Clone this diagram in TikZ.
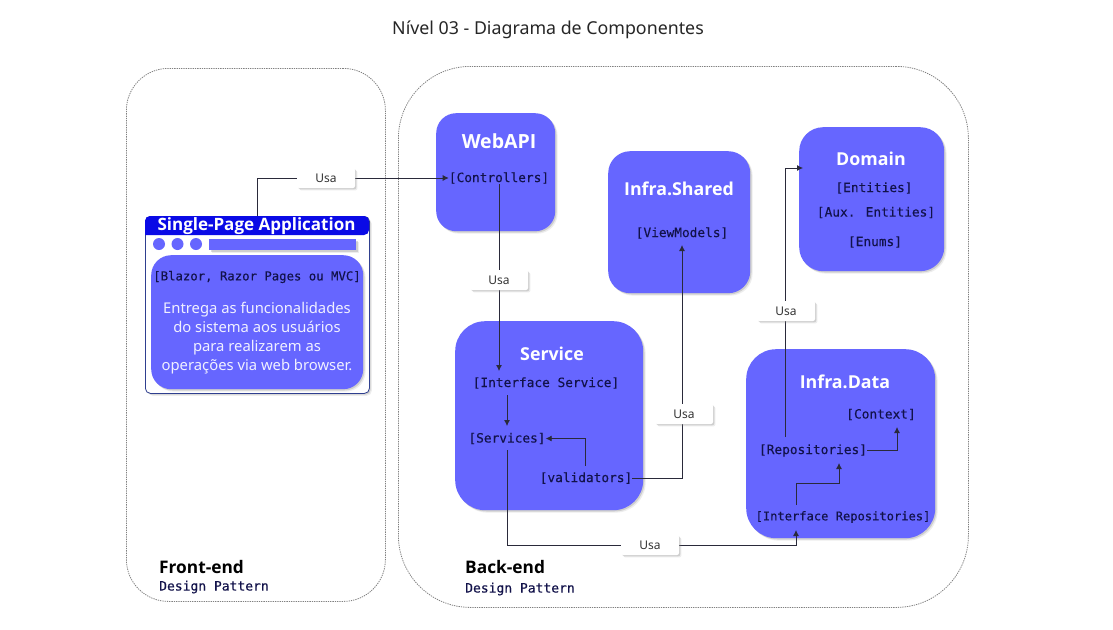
\documentclass[tikz,border=0pt]{standalone}
\usepackage{fontspec}
\setmainfont{Noto Sans}
\newfontfamily\monof{DejaVu Sans Mono}[FakeBold=0.25]
\newfontfamily\headf{Open Sans Bold}
\usetikzlibrary{shadows,arrows.meta,calc}
\definecolor{comp}{HTML}{6666FF}
\definecolor{hdr}{HTML}{0A0AE6}
\definecolor{navy}{HTML}{12124A}
\definecolor{edge}{HTML}{2F3F8F}
\definecolor{wire}{HTML}{2A2A3A}
\tikzset{
  softshadow/.style={
    drop shadow={shadow xshift=2.4pt,shadow yshift=-2.4pt,fill=black!50,opacity=.14},
    drop shadow={shadow xshift=1.3pt,shadow yshift=-1.3pt,fill=black!50,opacity=.28}},
  zone/.style={draw=black!50,dash pattern=on 1.3pt off 1pt,line width=.8pt,fill=white,anchor=north west,inner sep=0},
  comp box/.style={fill=comp,softshadow,anchor=north west,inner sep=0},
  comp title/.style={text=white,font=\headf\fontsize{17.8}{20}\selectfont,inner sep=0},
  mono/.style={text=navy,font=\monof\fontsize{12.8}{14}\selectfont,inner sep=0},
  zone title/.style={text=black,font=\headf\fontsize{17.3}{19}\selectfont,anchor=west,inner sep=0},
  zone sub/.style={text=navy,font=\monof\fontsize{13}{14}\selectfont,anchor=west,inner sep=0},
  usa/.style={fill=white,softshadow,rounded corners=2pt,minimum width=58pt,minimum height=20pt,inner sep=0,text=black!80,font=\fontsize{12}{14}\selectfont},
  wire line/.style={draw=wire,line width=.8pt},
  wire arrow/.style={wire line,-{Latex[length=6pt,width=6pt]}},
}
\begin{document}
\begin{tikzpicture}[x=1pt,y=-1pt]
\useasboundingbox (0,0) rectangle (1113,629);
\fill[white] (0,0) rectangle (1113,629);
\node (title) at (548,30) [inner sep=0,text=black!85,font=\fontsize{17.8}{20}\selectfont] {Nível 03 - Diagrama de Componentes};
% zones
\node (front) at (126,68) [zone,rounded corners=42pt,minimum width=259pt,minimum height=533pt] {};
\node (back) at (398,66) [zone,rounded corners=72pt,minimum width=570pt,minimum height=541pt] {};
\node (fronttitle) at (159,567) [zone title] {Front-end};
\node (frontsub) at (159,587) [zone sub] {Design Pattern};
\node (backtitle) at (465,567) [zone title] {Back-end};
\node (backsub) at (465,589) [zone sub] {Design Pattern};
% components
\node (webapi) at (436,113) [comp box,rounded corners=20pt,minimum width=119pt,minimum height=118pt] {};
\node (shared) at (608,151) [comp box,rounded corners=22pt,minimum width=142pt,minimum height=142pt] {};
\node (domain) at (799,127) [comp box,rounded corners=24pt,minimum width=145pt,minimum height=144pt] {};
\node (service) at (455,321) [comp box,rounded corners=30pt,minimum width=188pt,minimum height=189pt] {};
\node (data) at (746,349) [comp box,rounded corners=30pt,minimum width=189pt,minimum height=189pt] {};
% SPA window
\node (spa) at (145,216) [draw=edge,line width=.8pt,fill=white,softshadow,rounded corners=5pt,anchor=north west,inner sep=0,minimum width=224pt,minimum height=177pt] {};
\fill[hdr,rounded corners=5pt] (145,235) -- (145,216) -- (369,216) -- (369,235) [sharp corners] -- cycle;
\node (spatitle) at (256.5,226) [inner sep=0,text=white,font=\headf\fontsize{17}{19}\selectfont] {Single-Page Application};
\node (dot1) at (159,244) [circle,fill=comp,minimum size=12pt,inner sep=0] {};
\node (dot2) at (177.5,244) [circle,fill=comp,minimum size=12pt,inner sep=0] {};
\node (dot3) at (196,244) [circle,fill=comp,minimum size=12pt,inner sep=0] {};
\node (bar) at (209,239) [fill=comp,softshadow,anchor=north west,inner sep=0,minimum width=147pt,minimum height=11pt] {};
\node (spainner) at (151,255) [comp box,rounded corners=20pt,minimum width=212pt,minimum height=134pt] {};
\node (spatech) at (257,277) [mono,font=\monof\fontsize{12.3}{14}\selectfont] {[Blazor, Razor Pages ou MVC]};
\node (spadesc) at (257,338.5) [inner sep=0,align=center,text=white!90!comp,font=\fontsize{14.8}{19}\selectfont] {Entrega as funcionalidades\\do sistema aos usuários\\para realizarem as\\operações via web browser.};
% titles
\node (webapit) at (499,141) [comp title,font=\headf\fontsize{19.5}{20}\selectfont] {WebAPI};
\node (sharedt) at (679,189) [comp title] {Infra.Shared};
\node (domaint) at (871,159) [comp title] {Domain};
\node (servicet) at (552,354) [comp title] {Service};
\node (datat) at (845,382) [comp title] {Infra.Data};
% inner labels
\node (controllers) at (499,178) [mono] {[Controllers]};
\node (viewmodels) at (682,233) [mono] {[ViewModels]};
\node (entities) at (874,188) [mono] {[Entities]};
\node (aux) at (876,212.5) [mono] {[Aux. Entities]};
\node (enums) at (875,242) [mono] {[Enums]};
\node (iservice) at (546,383) [mono] {[Interface Service]};
\node (services) at (507,438.5) [mono] {[Services]};
\node (validators) at (586,478) [mono] {[validators]};
\node (context) at (881,414.5) [mono] {[Context]};
\node (repos) at (813,450.5) [mono] {[Repositories]};
\node (irepos) at (843,517) [mono,font=\monof\fontsize{12.1}{14}\selectfont] {[Interface Repositories]};
% free ends and bends
\coordinate (spaout) at (257,216);
\coordinate (dominto) at (803,168);
\coordinate (reposup) at (785,437);
\coordinate (irepoin) at (796,530);
\coordinate (ireposup) at (796,505);
\coordinate (reposin) at (839,463);
\coordinate (ctxin) at (897,427);
\coordinate (valup) at (585,466);
\coordinate (vmin) at (682,245);
\coordinate (svcin) at (499,371);
\coordinate (isvcout) at (507,395);
\coordinate (svcsin) at (507,426);
\coordinate (svcsout) at (507,450);
% connectors
\draw[wire line] (spaout) |- (326,178);
\draw[wire arrow] (326,178) -- (controllers.west);
\draw[wire line] (controllers.south) -- (499,280);
\draw[wire arrow] (499,280) -- (svcin);
\draw[wire arrow] (isvcout) -- (svcsin);
\draw[wire arrow] (valup) |- (services.east);
\draw[wire arrow] (validators.east) -| (vmin);
\draw[wire line] (svcsout) |- (650,545);
\draw[wire arrow] (650,545) -| (irepoin);
\draw[wire arrow] (ireposup) |- ($(reposin)+(0,20)$) -- (reposin);
\draw[wire arrow] (repos.east) -| (ctxin);
\draw[wire arrow] (reposup) |- (dominto);
% labels on connectors
\node (usaa) at (326,178) [usa] {Usa};
\node (usab) at (499,280) [usa] {Usa};
\node (usac) at (684,414) [usa] {Usa};
\node (usad) at (786,311) [usa] {Usa};
\node (usae) at (650,545) [usa] {Usa};
\end{tikzpicture}
\end{document}
